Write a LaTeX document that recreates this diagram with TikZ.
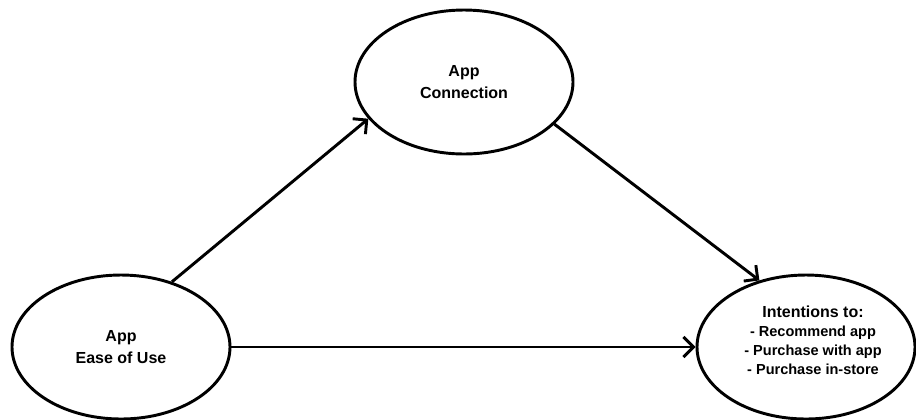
\documentclass[tikz,border=0pt]{standalone}
\usepackage{fontspec}
\setmainfont{Liberation Sans}
\usetikzlibrary{shapes.geometric, arrows.meta}

\begin{document}
\begin{tikzpicture}[x=0.75pt,y=0.75pt,yscale=-1,xscale=1,
    construct/.style={ellipse, draw, line width=2.2pt, minimum width=163.5pt, minimum height=108pt, inner sep=0pt, align=center, font=\bfseries\fontsize{12}{16.2}\selectfont},
    txt/.style={inner sep=0.75pt, align=center},
    path arrow/.style={line width=2.2pt, -{Straight Barb[length=7.5pt,width=15pt,line width=2.2pt]}}
  ]
    %set diagram size: 916 x 419
    \useasboundingbox (0,0) rectangle (916,419);

    %Ellipses
    \node[construct] (conn) at (464,82) {App\\Connection};
    \node[construct] (ease) at (121,347) {App\\Ease of Use};
    \node[construct] (intent) at (806,347) {};

    % Text Node
    \node[txt, font=\bfseries\fontsize{10.9}{14.2}\selectfont] (intenttxt) at (813,340)
      {{\fontsize{12}{14.2}\selectfont Intentions to:}\\- Recommend app\\- Purchase with app\\- Purchase in-store};

    %Straight Lines
    \draw[path arrow] (ease.52) -- (conn.201.6);
    \draw[path arrow] (conn.335.5) -- (intent.125.2);
    \draw[path arrow] (ease.east) -- (intent.west);

\end{tikzpicture}
\end{document}
